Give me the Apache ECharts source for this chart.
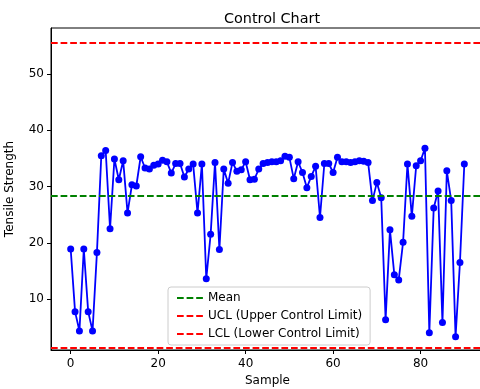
<!DOCTYPE html>
<html>
<head>
<meta charset="utf-8">
<script src="https://cdn.jsdelivr.net/npm/echarts@6/dist/echarts.min.js"></script>
<style>
  html, body { margin: 0; padding: 0; background: #fff; }
  #chart { width: 480px; height: 389px; }
</style>
</head>
<body>
<div id="chart"></div>
<script>
// tensile strength per sample
const strength = [
  18.9, 7.75, 4.3, 18.9, 7.75, 4.3, 18.25, 35.5, 36.4, 22.5,
  34.9, 31.2, 34.6, 25.3, 30.3, 30.1, 35.3, 33.3, 33.1, 33.8,
  34.0, 34.7, 34.4, 32.4, 34.1, 34.1, 31.7, 33.1, 34.0, 25.3,
  34.0, 13.6, 21.5, 34.3, 18.8, 33.1, 30.6, 34.3, 32.7, 33.0,
  34.4, 31.2, 31.3, 33.1, 34.1, 34.3, 34.4, 34.4, 34.6, 35.4,
  35.2, 31.4, 34.4, 32.5, 29.8, 31.8, 33.6, 24.5, 34.1, 34.1,
  32.5, 35.2, 34.4, 34.4, 34.3, 34.4, 34.6, 34.5, 34.3, 27.5,
  30.7, 28.0, 6.3, 22.3, 14.3, 13.4, 20.1, 34.0, 24.7, 33.7,
  34.6, 36.8, 4.0, 26.2, 29.2, 5.8, 32.8, 27.5, 3.3, 16.5,
  34.0
]
const meanValue = 28.45
const uclValue = 55.6
const lclValue = 1.3
const xTicks = [0, 20, 40, 60, 80]
const yTicks = [10, 20, 30, 40, 50]

const chart = echarts.init(document.getElementById('chart'), null, { renderer: 'canvas' })
const font = 'DejaVu Sans'
const dash = [6.7, 2.9]

// horizontal reference line as a series (so it shows in the legend)
function limitSeries (name, value, color) {
  return {
    name: name,
    type: 'line',
    data: [],
    symbol: 'none',
    lineStyle: { color: color, width: 1.8, type: dash },
    itemStyle: { color: color },
    markLine: {
      silent: true,
      symbol: 'none',
      label: { show: false },
      lineStyle: { color: color, width: 1.8, type: dash },
      data: [{ yAxis: value }]
    },
    z: 1
  }
}

const option = {
  animation: false,
  textStyle: { fontFamily: font },
  title: {
    text: 'Control Chart',
    left: 267,
    textAlign: 'center',
    top: 7,
    textStyle: { fontFamily: font, fontSize: 14.4, fontWeight: 'normal', color: '#000' }
  },
  grid: {
    left: 51,
    top: 28,
    width: 433,
    height: 322,
    outerBoundsMode: 'none',
    containLabel: false,
    show: true,
    borderColor: '#000',
    borderWidth: 1,
    backgroundColor: 'transparent'
  },
  legend: {
    orient: 'vertical',
    left: 168,
    top: 287,
    padding: [5, 8, 5, 8],
    itemGap: 6,
    itemWidth: 26,
    itemHeight: 12,
    backgroundColor: 'rgba(255,255,255,0.8)',
    borderColor: '#cccccc',
    borderWidth: 1,
    borderRadius: 3,
    itemStyle: { opacity: 0 },
    textStyle: { fontFamily: font, fontSize: 12, color: '#000' },
    data: ['Mean', 'UCL (Upper Control Limit)', 'LCL (Lower Control Limit)']
  },
  xAxis: {
    type: 'value',
    min: -4.5,
    max: 94.5,
    name: 'Sample',
    nameLocation: 'middle',
    nameGap: 25,
    nameTextStyle: { fontFamily: font, fontSize: 12, color: '#000' },
    axisLine: { show: true, onZero: false, lineStyle: { color: '#000', width: 1 } },
    axisTick: { show: true, length: 4, customValues: xTicks, lineStyle: { color: '#000' } },
    axisLabel: { customValues: xTicks, margin: 8, fontFamily: font, fontSize: 12, color: '#000' },
    splitLine: { show: false }
  },
  yAxis: {
    type: 'value',
    min: 0.93,
    max: 58.2,
    name: 'Tensile Strength',
    nameLocation: 'middle',
    nameGap: 35,
    nameTextStyle: { fontFamily: font, fontSize: 12, color: '#000' },
    axisLine: { show: true, onZero: false, lineStyle: { color: '#000', width: 1 } },
    axisTick: { show: true, length: 4, customValues: yTicks, lineStyle: { color: '#000' } },
    axisLabel: { customValues: yTicks, margin: 7, fontFamily: font, fontSize: 12, color: '#000' },
    splitLine: { show: false }
  },
  series: [
    {
      name: 'Tensile Strength',
      type: 'line',
      data: strength.map((v, i) => [i, v]),
      symbol: 'circle',
      symbolSize: 7,
      lineStyle: { color: '#0000ff', width: 1.8 },
      itemStyle: { color: '#0000ff' },
      z: 2
    },
    limitSeries('Mean', meanValue, '#008000'),
    limitSeries('UCL (Upper Control Limit)', uclValue, '#ff0000'),
    limitSeries('LCL (Lower Control Limit)', lclValue, '#ff0000')
  ]
}

chart.setOption(option)
</script>
</body>
</html>
